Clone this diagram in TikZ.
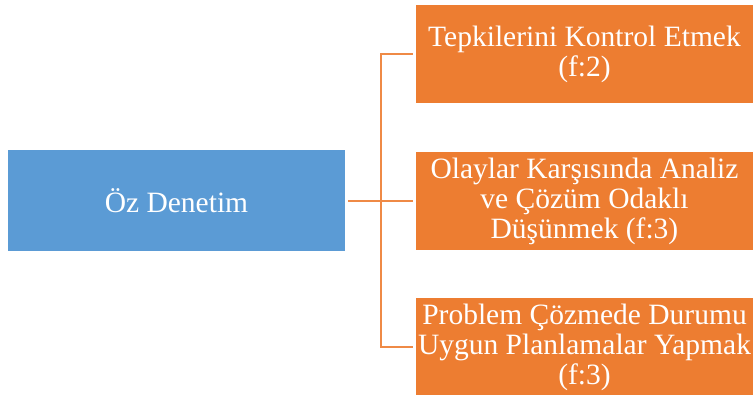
\documentclass[tikz,border=0pt]{standalone}
\usepackage{fontspec}
\setmainfont{Liberation Serif}
\definecolor{boxblue}{HTML}{5B9BD5}
\definecolor{boxorange}{HTML}{ED7D31}
\begin{document}
\begin{tikzpicture}[x=1pt,y=1pt,
  card/.style={inner sep=0pt, minimum width=337pt, text=white, align=center,
    font=\fontsize{29.5}{30}\selectfont},
  leftcard/.style={card, fill=boxblue, minimum height=101pt},
  rightcard/.style={card, fill=boxorange, minimum height=98pt},
  conn/.style={draw=boxorange!90!white, line width=2.2pt}]
\useasboundingbox (0,0) rectangle (753,394);
\node[leftcard] (L) at (176.5,193) {Öz Denetim};
\node[rightcard] (T) at (584.5,340) {Tepkilerini Kontrol Etmek\\(f:2)};
\node[rightcard] (M) at (584.5,193) {Olaylar Karşısında Analiz\\ve Çözüm Odaklı\\Düşünmek (f:3)};
\node[rightcard] (B) at (584.5,47) {Problem Çözmede Durumu\\Uygun Planlamalar Yapmak\\(f:3)};
\coordinate (j) at (381,193);
\draw[conn] ([xshift=3pt]L.east) -- ([xshift=-3pt]M.west);
\draw[conn] ([xshift=-3pt]T.west) -| (j) |- ([xshift=-3pt]B.west);
\end{tikzpicture}
\end{document}
